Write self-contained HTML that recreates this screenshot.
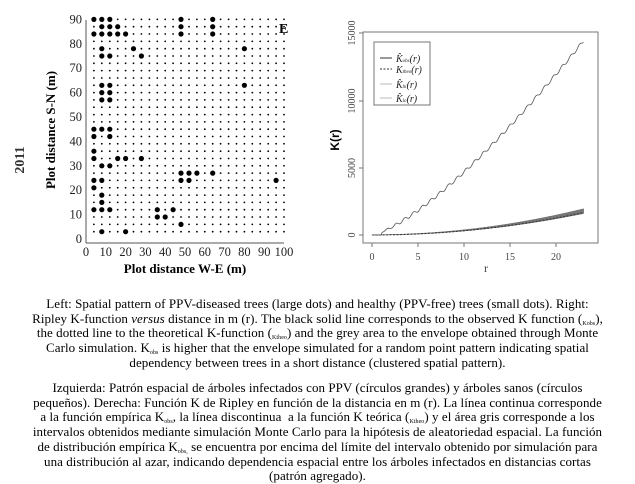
<!DOCTYPE html>
<html><head><meta charset="utf-8"><style>
body{margin:0;width:635px;height:481px;background:#fff;overflow:hidden;font-family:"Liberation Serif",serif;}
.cap{position:absolute;left:0px;width:635px;text-align:center;font-size:13px;line-height:14.7px;color:#000;white-space:nowrap;letter-spacing:0.05px}
sub{font-size:6px;vertical-align:-2px;line-height:0}
</style></head><body>
<svg id="s" width="635" height="290" style="position:absolute;left:0;top:0" font-family="Liberation Serif, serif">
<text x="24" y="160" transform="rotate(-90 24 160)" text-anchor="middle" font-size="14" font-weight="bold" fill="#333">2011</text>
<text x="55" y="130" transform="rotate(-90 55 130)" text-anchor="middle" font-size="13" font-weight="bold">Plot distance S-N (m)</text>
<text x="185" y="273" text-anchor="middle" font-size="13" font-weight="bold">Plot distance W-E (m)</text>
<line x1="86" y1="243" x2="284" y2="243" stroke="#555"/>
<line x1="86" y1="20" x2="86" y2="243" stroke="#555"/>
<text x="279" y="33" font-size="14" font-weight="bold">E</text>
<g id="l" font-size="12.5" fill="#222"></g>
<g id="d"></g>
<rect x="363" y="32" width="235" height="211" fill="none" stroke="#777"/>
<g font-size="10" fill="#444" text-anchor="middle">
<text x="372" y="260">0</text><text x="418" y="260">5</text><text x="464" y="260">10</text><text x="510" y="260">15</text><text x="556" y="260">20</text>
<text x="486" y="272" font-size="12">r</text>
</g>
<g stroke="#777"><line x1="372" y1="243" x2="372" y2="247"/><line x1="418" y1="243" x2="418" y2="247"/><line x1="464" y1="243" x2="464" y2="247"/><line x1="510" y1="243" x2="510" y2="247"/><line x1="556" y1="243" x2="556" y2="247"/>
<line x1="359" y1="235" x2="363" y2="235"/><line x1="359" y1="168" x2="363" y2="168"/><line x1="359" y1="101" x2="363" y2="101"/><line x1="359" y1="33" x2="363" y2="33"/></g>
<g font-size="10" fill="#444" text-anchor="middle">
<text transform="translate(355 235) rotate(-90)">0</text>
<text transform="translate(355 168) rotate(-90)">5000</text>
<text transform="translate(355 101) rotate(-90)">10000</text>
<text transform="translate(355 33) rotate(-90)">15000</text>
</g>
<text transform="translate(339 140) rotate(-90)" text-anchor="middle" font-size="12" font-weight="bold" font-family="Liberation Sans, sans-serif">K(r)</text>
<path id="env" fill="#777" stroke="#666" stroke-width="0.5"/>
<path id="theo" fill="none" stroke="#333" stroke-dasharray="2,1.5"/>
<path id="obs" fill="none" stroke="#555" stroke-width="0.8"/>
<rect x="374" y="42" width="56" height="63" fill="none" stroke="#777"/>
<g font-size="10" font-style="italic" fill="#222">
<line x1="380" y1="58" x2="392" y2="58" stroke="#333"/><text x="396" y="62">K̂<tspan font-size="5">obs</tspan>(r)</text>
<line x1="380" y1="69" x2="392" y2="69" stroke="#333" stroke-dasharray="2,1.5"/><text x="396" y="73">K<tspan font-size="5">theo</tspan>(r)</text>
<line x1="380" y1="84" x2="392" y2="84" stroke="#bbb"/><text x="396" y="88">K̂<tspan font-size="5">hi</tspan>(r)</text>
<line x1="380" y1="98" x2="392" y2="98" stroke="#bbb"/><text x="396" y="102">K̂<tspan font-size="5">lo</tspan>(r)</text>
</g>
</svg>
<div class="cap" style="top:297px">Left: Spatial pattern of PPV-diseased trees (large dots) and healthy (PPV-free) trees (small dots). Right:<br>Ripley K-function <i>versus</i> distance in m (r). The black solid line corresponds to the observed K function (<sub>Kobs</sub>),<br>the dotted line to the theoretical K-function (<sub>Ktheo</sub>) and the grey area to the envelope obtained through Monte<br>Carlo simulation. K<sub>obs</sub> is higher that the envelope simulated for a random point pattern indicating spatial<br>dependency between trees in a short distance (clustered spatial pattern).</div>
<div class="cap" style="top:381px">Izquierda: Patrón espacial de árboles infectados con PPV (círculos grandes) y árboles sanos (círculos<br>pequeños). Derecha: Función K de Ripley en función de la distancia en m (r). La línea continua corresponde<br>a la función empírica K<sub>obs</sub>, la línea discontinua &nbsp;a la función K teórica (<sub>Ktheo</sub>) y el área gris corresponde a los<br>intervalos obtenidos mediante simulación Monte Carlo para la hipótesis de aleatoriedad espacial. La función<br>de distribución empírica K<sub>obs,</sub> se encuentra por encima del límite del intervalo obtenido por simulación para<br>una distribución al azar, indicando dependencia espacial entre los árboles infectados en distancias cortas<br>(patrón agregado).</div>
<script>
function X(v){return 86+v*1.98} function Y(v){return 239-v*2.44}
var d=document.getElementById('d'),l=document.getElementById('l');
var big={90:[4,8,12,48,64],87:[8,12,16,48,64],84:[4,8,12,16,20,48,64],78:[8,24,80],75:[8,12,28],63:[8,12,80],60:[8,12],57:[8,12],45:[4,8,12],42:[4,12],36:[4],33:[4,16,20,28],30:[8,12],27:[48,52,56,64],24:[4,8,48,52,96],21:[4],18:[8],15:[8],12:[4,8,12,36,44],9:[36,40],6:[48],3:[8,20]};
var h="";
for(var y=3;y<=90;y+=3)for(var x=4;x<=100;x+=4){var b=big[y]&&big[y].indexOf(x)>=0;
h+='<circle cx="'+X(x).toFixed(1)+'" cy="'+Y(y).toFixed(1)+'" r="'+(b?2.6:0.9)+'"/>';}
d.innerHTML=h;
var t="";
for(var v=0;v<=100;v+=10)t+='<text x="'+X(v)+'" y="256" text-anchor="middle">'+v+'</text>';
for(var v=0;v<=90;v+=10)t+='<text x="82" y="'+(Y(v)+4)+'" text-anchor="end">'+v+'</text>';
l.innerHTML=t;
function RX(r){return 372+r*9.2} function RY(k){return 235-k*0.01347}
var o="M"+RX(0)+" "+RY(0),th="",up=[],lo=[];
for(var r=0;r<=23.1;r+=0.1){
var k=14500*Math.pow(r/23.1,1.35)-400*Math.sin(r*2*Math.PI/0.95)*0.3*Math.min(1,r/3);
if(r<1)k=0;o+=" L"+RX(r).toFixed(1)+" "+RY(Math.max(0,k)).toFixed(1);
var kt=Math.PI*r*r;th+=(th?" L":"M")+RX(r).toFixed(1)+" "+RY(kt).toFixed(1);
up.push(RX(r).toFixed(1)+" "+RY(kt*1.16+20).toFixed(1));lo.push(RX(r).toFixed(1)+" "+RY(kt*0.96).toFixed(1));}
document.getElementById('obs').setAttribute('d',o);
document.getElementById('theo').setAttribute('d',th);
document.getElementById('env').setAttribute('d',"M"+up.join(" L")+" L"+lo.reverse().join(" L")+"Z");
</script>
</body></html>
